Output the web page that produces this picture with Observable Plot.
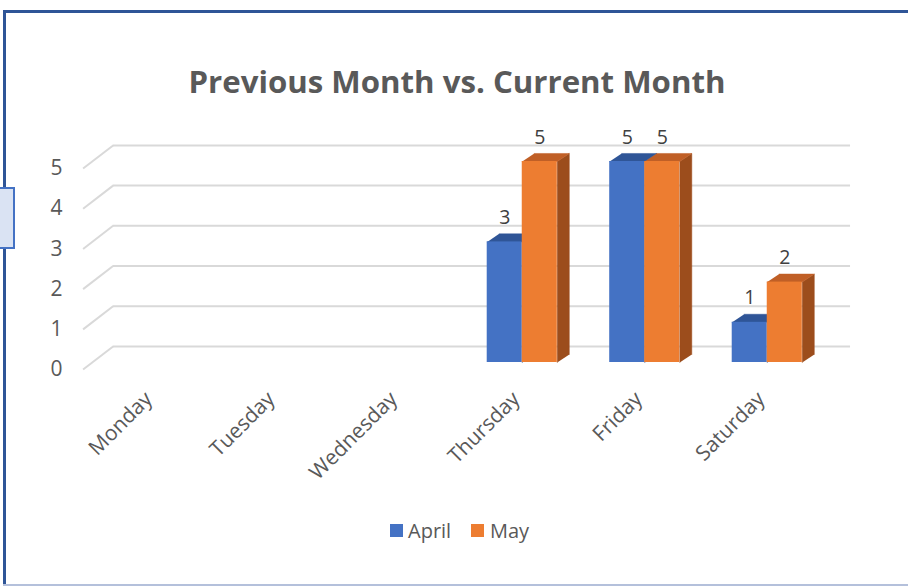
<!DOCTYPE html>
<html>
<head>
<meta charset="utf-8">
<script src="https://cdn.jsdelivr.net/npm/d3@7"></script>
<script src="https://cdn.jsdelivr.net/npm/@observablehq/plot@0.6"></script>
<style>
  html, body { margin: 0; padding: 0; background: #fff; }
  #wrap { position: relative; width: 908px; height: 586px; overflow: hidden; background: #fff; font-family: "Open Sans", sans-serif; }
  .ln { position: absolute; }
  #title { position: absolute; left: 0; width: 914px; top: 60px; text-align: center; font-weight: 700; font-size: 31.2px; color: #595959; }
  #chart { position: absolute; left: 0; top: 100px; }
  #legend { position: absolute; top: 518px; left: 0; width: 908px; height: 26px; }
  .sw { position: absolute; width: 13px; height: 13px; top: 6px; }
  .lt { position: absolute; top: 0px; font-size: 20px; color: #595959; line-height: 26px; }
</style>
</head>
<body>
<div id="wrap">
  <div class="ln" style="left:3px;top:10px;width:905px;height:3px;background:#2F5597"></div>
  <div class="ln" style="left:3px;top:10px;width:3px;height:576px;background:#2F5597"></div>
  <div class="ln" style="left:3px;top:584px;width:905px;height:2px;background:#B4C0DB"></div>
  <div class="ln" style="left:-3px;top:187px;width:14px;height:58px;background:#DAE3F3;border:2px solid #4472C4"></div>
  <div id="title">Previous Month vs. Current Month</div>
  <div id="chart"></div>
  <div id="legend">
    <div class="sw" style="left:390px;background:#4472C4"></div>
    <div class="lt" style="left:408px">April</div>
    <div class="sw" style="left:471px;background:#ED7D31"></div>
    <div class="lt" style="left:490px">May</div>
  </div>
</div>
<script>
// ---- data ----
const days = ["Monday", "Tuesday", "Wednesday", "Thursday", "Friday", "Saturday"];
const seriesNames = ["April", "May"];
const april = [null, null, null, 3, 5, 1];
const may = [null, null, null, 5, 5, 2];
const yTicks = [0, 1, 2, 3, 4, 5];

// ---- styles / geometry constants (data units) ----
const front = {April: "#4472C4", May: "#ED7D31"};
const topC = {April: "#2F5597", May: "#C05F26"};
const sideC = {April: "#2B4F8E", May: "#9C4D1C"};
const barW = 0.286;      // width of one bar in category units
const depX = 0.098;      // 3D depth offset, x units
const depY = 0.2;        // 3D depth offset, y units
const gBack = 0.4, gFront = -0.175; // floor / back wall offsets
const gxFront = -0.585, gxBack = -0.34, gxRight = 5.68;

const values = {April: april, May: may};
const bars = [];
seriesNames.forEach((s, si) => {
  values[s].forEach((v, i) => {
    if (v == null) return;
    const x1 = si === 0 ? i - barW : i;
    bars.push({series: s, day: days[i], value: v, x1, x2: x1 + barW, id: s + i});
  });
});
function topFace(b) {
  return [[b.x1, b.value], [b.x2, b.value], [b.x2 + depX, b.value + depY], [b.x1 + depX, b.value + depY]]
    .map(([x, y]) => ({x, y, id: b.id}));
}
function sideFace(b) {
  return [[b.x2, 0], [b.x2, b.value], [b.x2 + depX, b.value + depY], [b.x2 + depX, depY]]
    .map(([x, y]) => ({x, y, id: b.id}));
}

const marks = [
  Plot.ruleY(yTicks, {y: d => d + gBack, x1: gxBack, x2: gxRight, stroke: "#D9D9D9", strokeWidth: 2}),
  Plot.link(yTicks, {x1: gxFront, y1: d => d + gFront, x2: gxBack, y2: d => d + gBack, stroke: "#D9D9D9", strokeWidth: 2}),
];
for (const s of seriesNames) {
  const bs = bars.filter(b => b.series === s);
  marks.push(
    Plot.line(bs.flatMap(sideFace), {x: "x", y: "y", z: "id", fill: sideC[s], stroke: sideC[s], strokeWidth: 0.5}),
    Plot.line(bs.flatMap(topFace), {x: "x", y: "y", z: "id", fill: topC[s], stroke: topC[s], strokeWidth: 0.5}),
    Plot.rect(bs, {x1: "x1", x2: "x2", y1: 0, y2: "value", fill: front[s]})
  );
}
marks.push(
  Plot.text(bars, {x: d => (d.x1 + d.x2) / 2, y: "value", text: d => String(d.value), dy: -18, lineAnchor: "bottom", fontSize: 19.5, fill: "#404040"}),
  Plot.axisY(yTicks, {tickSize: 0, tickPadding: 31, dy: 7, fontSize: 21, color: "#595959", label: null}),
  Plot.axisX(days.map((d, i) => i), {tickFormat: i => days[i], tickSize: 0, tickPadding: 33, dx: -6, tickRotate: -45, fontSize: 21, color: "#595959", label: null})
);

const chart = Plot.plot({
  width: 908,
  height: 380,
  marginTop: 61,
  marginBottom: 118,
  marginLeft: 93,
  marginRight: 80,
  style: {fontFamily: "'Open Sans', sans-serif", background: "transparent", overflow: "visible"},
  x: {type: "linear", domain: [-0.5, 5.5], axis: null},
  y: {domain: [0, 5], axis: null},
  marks
});
document.getElementById("chart").appendChild(chart);
</script>
</body>
</html>
